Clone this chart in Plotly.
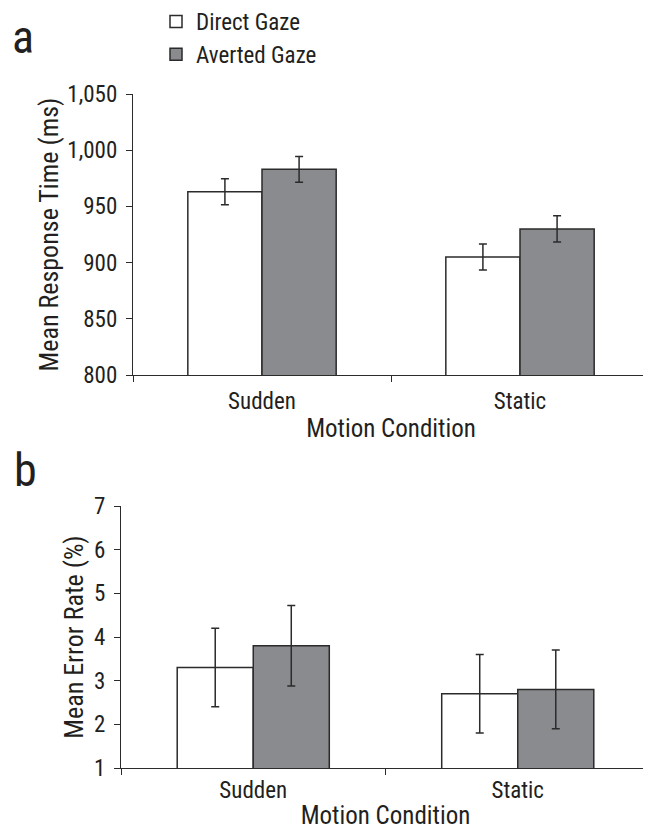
import plotly.graph_objects as go

# ---- data ----
conditions = ["Sudden", "Static"]
series_names = ["Direct Gaze", "Averted Gaze"]
rt_direct = [963, 905]
rt_averted = [983, 930]
rt_direct_err = [11.5, 11.5]
rt_averted_err = [11.5, 11.7]
er_direct = [3.3, 2.7]
er_averted = [3.8, 2.8]
er_direct_err = [0.9, 0.9]
er_averted_err = [0.92, 0.9]
rt_ticks = [800, 850, 900, 950, 1000, 1050]
er_ticks = [1, 2, 3, 4, 5, 6, 7]

FONT = "Liberation Sans Narrow, Arial Narrow, Roboto Condensed, DejaVu Sans Condensed, sans-serif"
TXT = "#231f20"
LINE = "#2b2b2b"
GREY = "#8a8b8e"
W, H = 651, 829
OFF = 8  # page body margin offset


def px(x):
    return (x - OFF) / W


def py(y):
    return 1 - (y - OFF) / H


xpos = list(range(len(conditions)))

fig = go.Figure()


def add_bars(xa, ya, direct, averted, derr, aerr, legend):
    fig.add_trace(go.Bar(
        x=xpos, y=direct, name=series_names[0], xaxis=xa, yaxis=ya,
        marker=dict(color="white", line=dict(color=LINE, width=1.5)),
        error_y=dict(type="data", array=derr, color=LINE, thickness=1.5, width=4),
        showlegend=legend, legendgroup="d"))
    fig.add_trace(go.Bar(
        x=xpos, y=averted, name=series_names[1], xaxis=xa, yaxis=ya,
        marker=dict(color=GREY, line=dict(color=LINE, width=1.5)),
        error_y=dict(type="data", array=aerr, color=LINE, thickness=1.5, width=4),
        showlegend=legend, legendgroup="a"))


add_bars("x", "y", rt_direct, rt_averted, rt_direct_err, rt_averted_err, True)
add_bars("x2", "y2", er_direct, er_averted, er_direct_err, er_averted_err, False)


def xaxis(domain, anchor, lstand, standoff):
    return dict(
        domain=domain, anchor=anchor, range=[-0.5, 1.5], automargin=False,
        tickmode="array", tickvals=xpos, ticktext=conditions,
        ticks="", ticklabelstandoff=lstand,
        tickfont=dict(size=23, color=TXT, family=FONT),
        showline=True, linecolor=LINE, linewidth=1.3,
        showgrid=False, zeroline=False,
        minor=dict(tickmode="array", tickvals=[-0.5, 0.5, 1.5], ticks="outside",
                   ticklen=6, tickcolor=LINE, tickwidth=1.3, showgrid=False),
        title=dict(text="Motion Condition", standoff=standoff,
                   font=dict(size=25, color=TXT, family=FONT)),
    )


def yaxis(domain, anchor, rng, ticks, fmt, standoff, title):
    return dict(
        domain=domain, anchor=anchor, range=rng, automargin=False,
        tickmode="array", tickvals=ticks, tickformat=fmt,
        ticks="outside", ticklen=6, tickcolor=LINE, tickwidth=1.3,
        ticklabelstandoff=4,
        tickfont=dict(size=23, color=TXT, family=FONT),
        showline=True, linecolor=LINE, linewidth=1.3,
        showgrid=False, zeroline=False,
        title=dict(text=title, standoff=standoff,
                   font=dict(size=26, color=TXT, family=FONT)),
    )


fig.update_layout(
    width=W, height=H,
    margin=dict(l=0, r=0, t=0, b=0, autoexpand=False),
    paper_bgcolor="white", plot_bgcolor="white",
    font=dict(family=FONT, color=TXT),
    barmode="group", bargap=0.425, bargroupgap=0,
    xaxis=xaxis([px(133), px(649)], "y", 5, 5),
    yaxis=yaxis([py(375), py(94)], "x", [800, 1050], rt_ticks, ",d", 1,
                "Mean Response Time (ms)"),
    xaxis2=xaxis([px(121), px(650)], "y2", 1, 3),
    yaxis2=yaxis([py(768), py(506)], "x2", [1, 7], er_ticks, "d", 2,
                 "Mean Error Rate (%)"),
    legend=dict(x=px(156), y=py(0), xanchor="left", yanchor="top",
                font=dict(size=23, color=TXT, family=FONT),
                bgcolor="rgba(0,0,0,0)", tracegroupgap=2, traceorder="normal"),
    annotations=[
        dict(text="a", x=px(10), y=py(66), xref="paper", yref="paper",
             xanchor="left", yanchor="bottom", showarrow=False,
             font=dict(size=46, color=TXT, family=FONT)),
        dict(text="b", x=px(12), y=py(499), xref="paper", yref="paper",
             xanchor="left", yanchor="bottom", showarrow=False,
             font=dict(size=46, color=TXT, family=FONT)),
    ],
)

fig.write_html("out.html")
